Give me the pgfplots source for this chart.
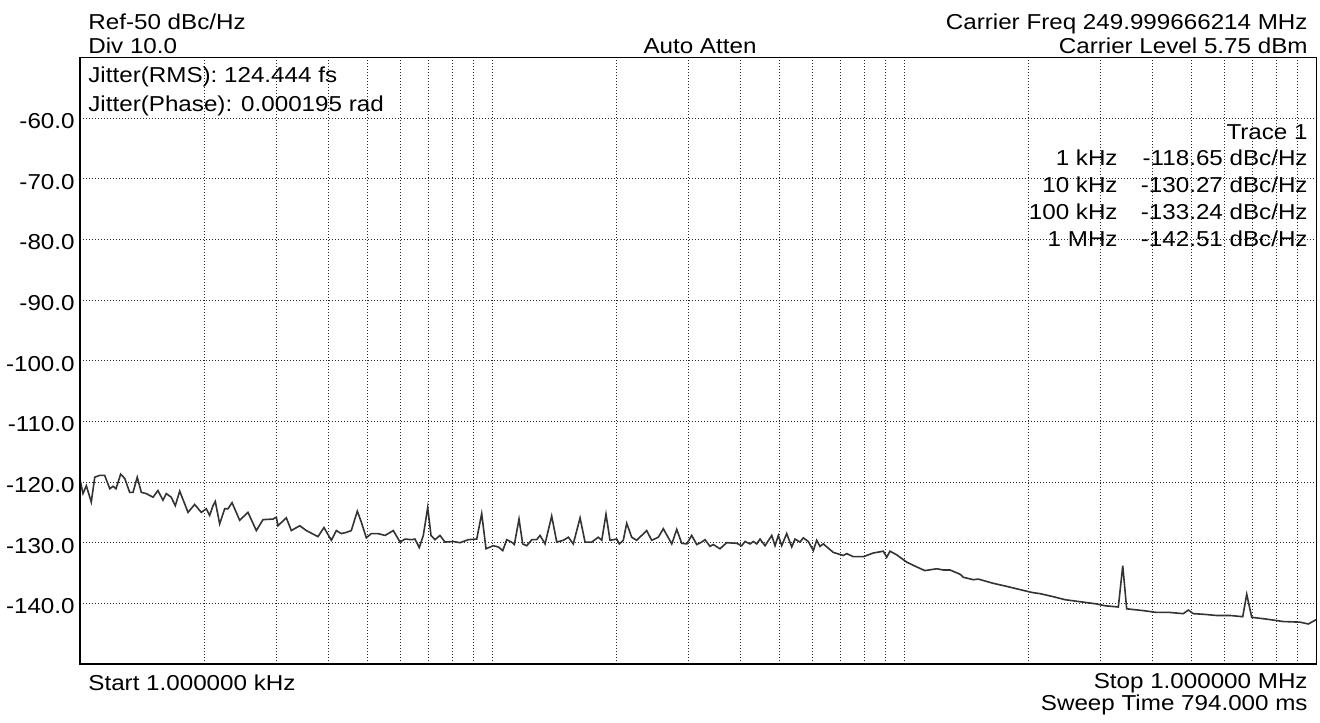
\documentclass[border=0pt]{standalone}
\usepackage{fontspec}
\setmainfont[FakeStretch=1.12]{Liberation Sans}
\usepackage{pgfplots}
\usepackage{pgfplotstable}
\pgfplotsset{compat=1.18}

% phase noise trace, offset in kHz, level in dBc/Hz
\pgfplotstableread{
f L
1.000 -119.6
1.017 -121.9
1.036 -120.6
1.065 -123.3
1.086 -119.2
1.116 -118.9
1.148 -118.9
1.181 -121.1
1.203 -120.7
1.223 -121.1
1.255 -118.7
1.284 -119.4
1.320 -121.7
1.345 -121.7
1.377 -119.2
1.409 -121.7
1.448 -121.9
1.504 -122.5
1.546 -121.4
1.590 -123.0
1.620 -121.9
1.665 -122.5
1.703 -123.9
1.746 -121.5
1.829 -125.0
1.898 -123.7
1.970 -125.0
2.026 -124.4
2.064 -125.5
2.103 -123.9
2.130 -123.2
2.183 -126.9
2.245 -124.4
2.287 -124.4
2.339 -123.4
2.441 -126.3
2.557 -125.0
2.679 -128.0
2.781 -126.2
2.941 -126.1
2.996 -125.8
3.024 -127.2
3.168 -125.9
3.258 -128.0
3.415 -127.2
3.543 -128.0
3.782 -129.0
3.910 -127.5
4.074 -129.6
4.190 -128.0
4.307 -128.5
4.430 -128.3
4.555 -128.0
4.711 -124.8
4.817 -126.6
4.954 -129.2
5.093 -128.5
5.288 -128.5
5.500 -128.8
5.761 -128.0
5.981 -129.9
6.150 -129.4
6.384 -129.5
6.503 -129.4
6.661 -130.8
6.813 -128.8
6.982 -124.2
7.112 -128.8
7.273 -129.5
7.478 -128.8
7.690 -129.9
8.055 -129.8
8.362 -130.0
8.760 -129.5
9.182 -129.4
9.441 -125.2
9.670 -131.0
10.07 -130.5
10.36 -130.7
10.62 -131.3
10.86 -129.5
11.16 -129.9
11.33 -130.3
11.63 -126.1
11.87 -130.2
12.14 -130.5
12.49 -129.5
12.84 -129.5
13.08 -128.8
13.45 -130.2
13.96 -125.6
14.36 -129.9
14.90 -129.6
15.32 -129.1
15.75 -130.2
16.36 -125.9
16.82 -129.9
17.46 -129.9
18.11 -129.1
18.47 -129.6
18.91 -125.3
19.34 -129.6
20.08 -129.4
20.37 -130.2
20.83 -129.6
21.23 -126.8
21.83 -129.1
22.45 -129.6
23.74 -128.0
24.41 -129.6
25.33 -129.1
26.05 -127.7
27.31 -130.2
28.08 -127.8
28.87 -130.1
29.69 -130.2
30.53 -128.8
31.40 -130.3
32.28 -129.9
32.89 -129.5
33.81 -130.6
34.44 -130.3
35.75 -131.0
37.12 -130.0
39.26 -130.1
40.37 -130.5
41.13 -129.8
42.29 -130.2
43.08 -129.8
43.91 -130.2
44.72 -129.4
45.99 -130.5
47.75 -128.8
48.64 -130.5
49.54 -128.8
50.48 -130.5
51.91 -128.5
53.39 -130.7
54.38 -129.4
55.92 -129.9
56.96 -129.2
58.58 -129.8
60.24 -131.3
61.39 -129.6
62.53 -130.6
63.70 -130.2
67.36 -131.6
71.24 -132.1
72.60 -131.8
75.33 -132.3
79.66 -132.3
84.24 -131.7
89.10 -131.4
90.78 -132.4
92.47 -131.4
96.01 -132.0
101.5 -133.2
107.4 -134.0
112.4 -134.6
120.1 -134.3
124.6 -134.5
129.3 -134.5
136.8 -135.2
139.3 -135.7
147.3 -136.1
151.5 -136.0
164.7 -136.7
177.5 -137.2
193.1 -137.8
204.2 -138.2
213.8 -138.4
230.3 -138.9
246.0 -139.4
272.4 -139.8
293.6 -140.1
307.6 -140.4
331.3 -140.6
339.6 -133.8
347.1 -140.9
380.9 -141.2
410.6 -141.5
442.2 -141.5
476.3 -141.7
489.8 -141.1
503.7 -141.7
532.7 -141.8
574.1 -142.0
618.5 -142.0
664.0 -142.2
679.0 -138.5
698.2 -142.3
759.2 -142.6
833.0 -143.0
914.6 -143.1
957.9 -143.4
1000 -142.7
}\trace

\begin{document}
\fontsize{10.8}{13}\selectfont
\begin{tikzpicture}
\path[use as bounding box] (-40pt,-29pt) rectangle (620pt,332pt);
\begin{semilogxaxis}[
    at={(0,0)}, anchor=south west,
    scale only axis, width=618pt, height=303.25pt,
    xmin=1, xmax=1000, ymin=-150, ymax=-50,
    xtick={10,100},
    minor xtick={2,3,4,5,6,7,8,9,20,30,40,50,60,70,80,90,200,300,400,500,600,700,800,900},
    xticklabels={},
    ytick={-140,-130,-120,-110,-100,-90,-80,-70,-60},
    yticklabels={-140.0,-130.0,-120.0,-110.0,-100.0,-90.0,-80.0,-70.0,-60.0},
    yticklabel style={inner sep=0pt, xshift=-2.5pt, yshift=-1.5pt},
    major tick length=0pt, minor tick length=0pt,
    grid=both,
    major grid style={black!85, line width=0.5pt, dash pattern=on 0.5pt off 1pt},
    minor grid style={black!85, line width=0.5pt, dash pattern=on 0.5pt off 1pt},
    axis line style={black, line width=0.5pt},
]
\addplot[black!80, line width=0.8pt, no marks] table[x=f, y=L] {\trace};
\end{semilogxaxis}
\draw[black, line width=1pt] (0,303.25pt) -- (0,0) -- (618pt,0);

\begin{scope}[every node/.style={inner sep=0pt}]
\node[anchor=base west] at (4pt,317pt) {Ref-50 dBc/Hz};
\node[anchor=base west] at (4pt,305pt) {Div 10.0};
\node[anchor=base] at (310pt,305pt) {Auto Atten};
\node[anchor=base east] at (614pt,317pt) {Carrier Freq 249.999666214 MHz};
\node[anchor=base east] at (614pt,305pt) {Carrier Level 5.75 dBm};
\node[anchor=base west] at (4pt,290.5pt) {Jitter(RMS): 124.444 fs};
\node[anchor=base west] at (4pt,276pt) {Jitter(Phase): 0.000195 rad};
\node[anchor=base east] at (614pt,262pt) {Trace 1};
\node[anchor=base east] at (519pt,249pt) {1 kHz};
\node[anchor=base east] at (614pt,249pt) {-118.65 dBc/Hz};
\node[anchor=base east] at (519pt,235.5pt) {10 kHz};
\node[anchor=base east] at (614pt,235.5pt) {-130.27 dBc/Hz};
\node[anchor=base east] at (519pt,222pt) {100 kHz};
\node[anchor=base east] at (614pt,222pt) {-133.24 dBc/Hz};
\node[anchor=base east] at (519pt,208.5pt) {1 MHz};
\node[anchor=base east] at (614pt,208.5pt) {-142.51 dBc/Hz};
\node[anchor=base west] at (4pt,-13pt) {Start 1.000000 kHz};
\node[anchor=base east] at (614pt,-12pt) {Stop 1.000000 MHz};
\node[anchor=base east] at (614pt,-23pt) {Sweep Time 794.000 ms};
\end{scope}
\end{tikzpicture}
\end{document}
